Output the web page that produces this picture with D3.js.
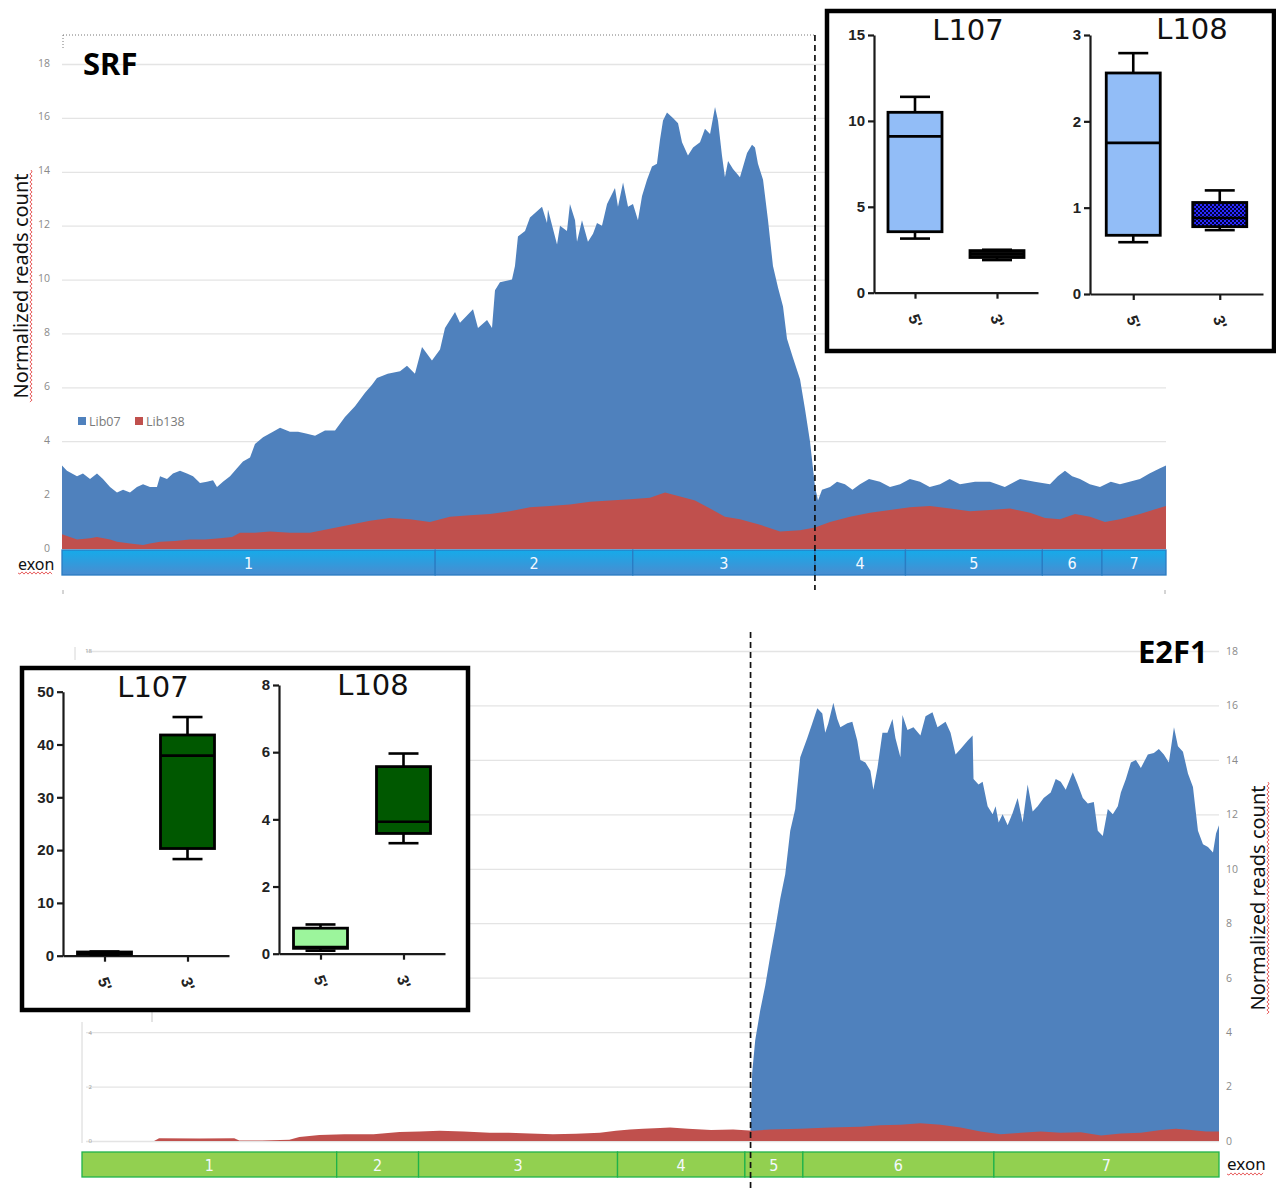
<!DOCTYPE html>
<html>
<head>
<meta charset="utf-8">
<script src="https://cdn.jsdelivr.net/npm/d3@7"></script>
<style>
body { margin: 0; background: #fff; }
svg { display: block; }
</style>
</head>
<body>
<svg width="1276" height="1188"></svg>
<script>
// positions are % along the transcript, values are normalized read counts
const readTicks = [0, 2, 4, 6, 8, 10, 12, 14, 16, 18];
const exonLabels = ["1", "2", "3", "4", "5", "6", "7"];
const srfExonStarts = [0, 33.8, 51.7, 68.2, 76.4, 88.8, 94.2];
const e2f1ExonStarts = [0, 22.4, 29.6, 47.1, 58.3, 63.4, 80.2];
const srfBreakPos = 68.2;
const e2f1BreakPos = 58.8;

const srfLib07 = [[0,3.1],[0.45,2.9],[1.36,2.7],[1.9,2.8],[2.54,2.6],[3.17,2.8],[3.71,2.6],[4.35,2.3],[4.98,2.1],[5.53,2.2],[6.16,2.1],[6.79,2.3],[7.34,2.4],[7.97,2.3],[8.6,2.3],[8.88,2.7],[9.51,2.6],[10.05,2.8],[10.69,2.9],[11.32,2.8],[11.87,2.7],[12.5,2.45],[13.13,2.5],[13.68,2.55],[14.04,2.3],[14.58,2.5],[15.22,2.7],[15.85,3.0],[16.39,3.25],[17.03,3.4],[17.48,3.9],[18.21,4.15],[19.11,4.35],[19.75,4.5],[20.65,4.35],[21.38,4.35],[22.01,4.3],[22.92,4.2],[23.82,4.4],[24.73,4.4],[25.63,4.9],[26.54,5.3],[27.45,5.8],[28.08,6.1],[28.53,6.35],[29.5,6.5],[30.62,6.6],[31.25,6.8],[31.97,6.5],[32.61,7.5],[33.51,7.0],[34.24,7.4],[34.69,8.2],[35.6,8.8],[36.05,8.4],[37.23,8.9],[37.68,8.2],[38.5,8.5],[38.95,8.2],[39.22,9.6],[39.67,9.9],[40.76,10.0],[41.03,10.5],[41.3,11.6],[41.94,11.8],[42.39,12.3],[43.48,12.7],[43.93,12.1],[44.02,12.6],[44.84,11.3],[45.11,12.0],[45.74,11.8],[46.01,12.8],[46.47,12.2],[46.65,11.4],[47.1,12.2],[47.64,11.4],[48.1,11.7],[48.46,12.1],[48.91,12.0],[49.37,12.8],[50.09,13.4],[50.36,12.7],[50.82,13.6],[51.27,12.7],[51.72,12.8],[52.17,12.2],[52.54,13.1],[52.99,13.7],[53.44,14.2],[53.89,14.3],[54.17,15.2],[54.44,15.9],[54.8,16.2],[55.34,16.0],[55.8,15.8],[56.16,15.1],[56.7,14.6],[57.16,14.9],[57.79,15.1],[58.24,15.6],[58.7,15.4],[59.15,16.4],[59.42,15.9],[59.78,14.6],[60.05,13.8],[60.33,14.4],[60.78,14.1],[61.41,13.8],[62.05,14.7],[62.5,15.0],[62.77,14.9],[63.04,14.3],[63.5,13.7],[63.95,12.2],[64.4,10.5],[64.86,9.7],[65.31,9.0],[65.67,7.8],[66.21,7.1],[66.85,6.3],[67.3,5.2],[67.75,4.0],[68.21,2.3],[68.48,1.8],[68.84,2.2],[69.57,2.3],[70.2,2.5],[70.92,2.4],[71.6,2.2],[72.28,2.4],[73.1,2.6],[74.09,2.5],[75.0,2.3],[75.91,2.4],[76.8,2.6],[77.72,2.5],[78.6,2.3],[79.53,2.4],[80.4,2.6],[81.34,2.4],[82.7,2.5],[84.06,2.5],[85.4,2.3],[86.78,2.6],[88.1,2.5],[89.49,2.4],[90.2,2.7],[90.85,2.9],[91.5,2.7],[92.21,2.6],[93.1,2.4],[94.02,2.3],[95.0,2.5],[95.83,2.4],[96.7,2.5],[97.64,2.6],[98.5,2.8],[99.46,3.0],[100,3.1]];

const srfLib138 = [[0,0.55],[0.72,0.45],[1.36,0.35],[2.54,0.4],[3.17,0.45],[4.35,0.35],[4.98,0.27],[6.16,0.2],[7.34,0.15],[7.97,0.2],[8.88,0.27],[10.24,0.3],[11.59,0.35],[12.95,0.35],[14.31,0.4],[15.4,0.45],[16.12,0.6],[17.48,0.6],[18.84,0.65],[20.65,0.6],[22.46,0.6],[24.28,0.75],[26.09,0.9],[27.9,1.05],[29.71,1.15],[31.52,1.1],[33.33,1.0],[35.14,1.2],[36.96,1.25],[38.77,1.3],[40.58,1.4],[42.39,1.55],[44.2,1.6],[46.01,1.65],[47.83,1.75],[49.64,1.8],[51.45,1.85],[53.26,1.9],[54.62,2.1],[55.98,1.95],[57.34,1.8],[58.7,1.5],[60.05,1.2],[61.41,1.1],[63.22,0.9],[65.04,0.65],[66.85,0.7],[68.21,0.8],[69.57,1.0],[71.38,1.2],[73.19,1.35],[75.0,1.45],[76.81,1.55],[78.62,1.6],[80.43,1.5],[82.25,1.4],[84.06,1.45],[85.87,1.5],[87.68,1.35],[89.04,1.15],[90.4,1.1],[91.76,1.3],[93.12,1.2],[94.47,1.0],[95.83,1.1],[97.64,1.3],[100,1.6]];

const e2f1Lib07 = [[58.77,0],[58.94,2.5],[59.21,3.7],[59.65,4.8],[60.09,5.7],[60.53,6.8],[60.97,7.8],[61.41,8.9],[61.85,9.8],[62.29,11.4],[62.73,12.2],[63.17,14.1],[63.79,14.8],[64.23,15.35],[64.67,15.9],[65.11,15.7],[65.37,15.0],[65.64,15.35],[66.08,16.1],[66.43,15.5],[66.7,15.2],[67.31,15.35],[67.75,15.4],[68.19,14.7],[68.46,14.0],[68.9,13.9],[69.34,13.6],[69.6,12.9],[69.96,13.7],[70.4,15.0],[70.84,15.0],[71.28,15.5],[71.54,14.8],[71.98,14.1],[72.16,15.65],[72.6,15.1],[73.13,15.2],[73.74,14.9],[74.19,15.6],[74.8,15.75],[75.24,15.2],[75.95,15.4],[76.39,15.0],[76.83,14.2],[77.27,14.4],[77.89,14.7],[78.33,14.9],[78.41,13.3],[78.85,13.1],[79.21,13.2],[79.65,12.3],[80.09,12.0],[80.35,12.3],[80.62,11.7],[80.97,12.0],[81.41,11.6],[81.85,12.05],[82.29,12.6],[82.73,11.7],[83.17,13.1],[83.61,12.1],[84.05,12.3],[84.58,12.6],[85.2,12.8],[85.64,13.3],[86.08,13.2],[86.52,12.9],[87.14,13.55],[87.58,13.1],[88.02,12.6],[88.46,12.4],[88.99,12.45],[89.34,11.4],[89.78,11.2],[90.22,12.2],[90.66,12.0],[91.1,12.3],[91.37,12.8],[91.81,13.3],[92.25,13.9],[92.69,14.0],[93.13,13.7],[93.74,14.2],[94.27,14.25],[94.71,14.4],[95.15,14.2],[95.59,13.9],[96.04,15.2],[96.39,14.5],[96.83,14.3],[97.27,13.5],[97.71,13.0],[98.15,11.4],[98.59,10.9],[99.03,10.8],[99.47,10.6],[99.74,11.3],[100,11.6]];

const e2f1Lib138 = [[0,0],[6.34,0],[6.78,0.1],[10.31,0.09],[13.39,0.1],[13.83,0.02],[15.86,0.02],[18.24,0.05],[19.12,0.15],[20.88,0.22],[23.08,0.25],[25.64,0.25],[27.93,0.33],[29.69,0.35],[31.45,0.38],[33.57,0.35],[35.86,0.3],[37.53,0.3],[39.38,0.28],[41.41,0.25],[43.44,0.27],[45.55,0.3],[46.96,0.38],[48.19,0.42],[49.34,0.45],[50.84,0.48],[51.72,0.5],[53.3,0.45],[55.33,0.4],[57.27,0.42],[59.03,0.38],[60.53,0.42],[63.17,0.45],[65.81,0.5],[68.46,0.52],[70.22,0.58],[71.98,0.6],[73.74,0.65],[75.51,0.6],[77.27,0.5],[79.03,0.35],[80.79,0.25],[82.56,0.3],[84.32,0.35],[86.08,0.3],[87.84,0.32],[89.63,0.2],[91.37,0.28],[93.13,0.3],[94.89,0.4],[96.21,0.45],[97.53,0.4],[98.85,0.35],[100,0.35]];

// box plots: [min, q1, median, q3, max] for 5' and 3'
const boxGroups = ["5'", "3'"];
const srfL107Stats = [[3.15, 3.55, 9.1, 10.5, 11.4], [1.9, 2.05, 2.25, 2.45, 2.5]];
const srfL108Stats = [[0.6, 0.68, 1.75, 2.56, 2.79], [0.74, 0.78, 0.88, 1.06, 1.2]];
const e2f1L107Stats = [[0.2, 0.3, 0.5, 0.7, 0.8], [18.3, 20.3, 37.9, 41.8, 45.2]];
const e2f1L108Stats = [[0.09, 0.16, 0.2, 0.76, 0.87], [3.29, 3.58, 3.93, 5.57, 5.96]];
const srfL107Ticks = [0, 5, 10, 15];
const srfL108Ticks = [0, 1, 2, 3];
const e2f1L107Ticks = [0, 10, 20, 30, 40, 50];
const e2f1L108Ticks = [0, 2, 4, 6, 8];

const svg = d3.select("svg");
const defs = svg.append("defs");

const grad = defs.append("linearGradient").attr("id", "srfExon")
  .attr("x1", 0).attr("y1", 0).attr("x2", 0).attr("y2", 1);
grad.append("stop").attr("offset", "0%").attr("stop-color", "#15abea");
grad.append("stop").attr("offset", "100%").attr("stop-color", "#4a8cd0");

const pat = defs.append("pattern").attr("id", "checker")
  .attr("width", 4).attr("height", 4).attr("patternUnits", "userSpaceOnUse");
pat.append("rect").attr("width", 4).attr("height", 4).attr("fill", "#00003a");
pat.append("rect").attr("width", 2).attr("height", 2).attr("fill", "#2a2aff");
pat.append("rect").attr("x", 2).attr("y", 2).attr("width", 2).attr("height", 2).attr("fill", "#2a2aff");

function squiggle(x0, y0, len, vertical) { // red spell-check underline
  let d = "M" + x0 + "," + y0;
  for (let i = 2; i <= len; i += 2) {
    const off = (i / 2) % 2 ? 1.1 : -1.1;
    d += vertical ? " L" + (x0 + off) + "," + (y0 + i) : " L" + (x0 + i) + "," + (y0 + off);
  }
  svg.append("path").attr("d", d).attr("fill", "none").attr("stroke", "#e23a3a").attr("stroke-width", 0.8);
}

function drawCoverage(c) {
  const g = svg.append("g");
  const x = d3.scaleLinear().domain([0, 100]).range([c.x0, c.x1]);
  const y = d3.scaleLinear().domain([0, 18]).range([c.yBase, c.yTop]);

  const axis = (c.axisRight ? d3.axisRight(y) : d3.axisLeft(y))
    .tickValues(readTicks).tickSize(-(c.x1 - c.gridStart)).tickPadding(c.pad);
  const ag = g.append("g").attr("transform", "translate(" + (c.axisRight ? c.x1 : c.gridStart) + ",0)").call(axis);
  ag.select(".domain").remove();
  ag.selectAll("line").attr("stroke", "#e4e4e4").attr("stroke-width", 1.3);
  ag.selectAll("text").attr("fill", "#8a8a8a").style("font", "10.5px 'Open Sans', sans-serif");
  if (!c.axisRight) ag.selectAll("text").attr("dy", "0.2em");

  const area = d3.area().x(d => x(d[0])).y0(y(0)).y1(d => y(d[1]));
  g.append("path").datum(c.blue).attr("d", area).attr("fill", "#4f81bd");
  g.append("path").datum(c.red).attr("d", area).attr("fill", "#c0504d");

  const ends = c.exons.slice(1).concat([100]);
  g.selectAll(".exon").data(c.exons).enter().append("rect")
    .attr("x", d => x(d)).attr("y", c.barY)
    .attr("width", (d, i) => x(ends[i]) - x(d)).attr("height", 25)
    .attr("fill", c.barFill).attr("stroke", c.barStroke).attr("stroke-width", 1.3);
  g.selectAll(".exonLabel").data(c.exons).enter().append("text")
    .attr("x", (d, i) => (x(d) + x(ends[i])) / 2).attr("y", c.barY + 18.5)
    .attr("text-anchor", "middle").attr("fill", "#f4f9ff")
    .style("font", "16px 'Liberation Sans Narrow', 'DejaVu Sans Condensed', sans-serif")
    .text((d, i) => exonLabels[i]);

  g.append("line").attr("x1", x(c.breakPos)).attr("x2", x(c.breakPos))
    .attr("y1", c.dashY0).attr("y2", c.dashY1)
    .attr("stroke", "#111").attr("stroke-width", 1.7).attr("stroke-dasharray", "6,4");
  return { g: g, x: x, y: y };
}

function drawInset(b) {
  const g = svg.append("g");
  g.append("rect").attr("x", b.x).attr("y", b.y).attr("width", b.w).attr("height", b.h)
    .attr("fill", "#fff").attr("stroke", "#000").attr("stroke-width", 4.5);
  b.panels.forEach(p => {
    const yS = d3.scaleLinear().domain([0, p.max]).range([p.bottom, p.top]);
    const xS = d3.scalePoint().domain(boxGroups).range([p.left, p.right]).padding(0.5);
    const ya = g.append("g").attr("transform", "translate(" + p.left + ",0)")
      .call(d3.axisLeft(yS).tickValues(p.ticks).tickFormat(d3.format("d"))
        .tickSize(6).tickSizeOuter(0).tickPadding(3));
    const xa = g.append("g").attr("transform", "translate(0," + p.bottom + ")")
      .call(d3.axisBottom(xS).tickSize(6).tickSizeOuter(0));
    [ya, xa].forEach(a => a.selectAll("path,line").attr("stroke", "#1a1a1a").attr("stroke-width", 2.2));
    ya.selectAll("text").attr("fill", "#222").style("font", "bold 15px Arial, 'Liberation Sans', sans-serif");
    xa.selectAll("text").attr("fill", "#222").style("font", "bold 16px Arial, 'Liberation Sans', sans-serif")
      .attr("y", 0).attr("dy", "0.35em").attr("text-anchor", "middle")
      .attr("transform", "translate(0,28) rotate(70)");

    p.stats.forEach((s, i) => {
      const cx = xS(boxGroups[i]);
      const bw = 54, cw = 30;
      g.append("line").attr("x1", cx).attr("x2", cx).attr("y1", yS(s[0])).attr("y2", yS(s[4]))
        .attr("stroke", "#000").attr("stroke-width", 2.6);
      [s[0], s[4]].forEach(v => g.append("line").attr("x1", cx - cw / 2).attr("x2", cx + cw / 2)
        .attr("y1", yS(v)).attr("y2", yS(v)).attr("stroke", "#000").attr("stroke-width", 2.6));
      g.append("rect").attr("x", cx - bw / 2).attr("width", bw)
        .attr("y", yS(s[3])).attr("height", yS(s[1]) - yS(s[3]))
        .attr("fill", p.fills[i]).attr("stroke", "#000").attr("stroke-width", 2.8);
      g.append("line").attr("x1", cx - bw / 2).attr("x2", cx + bw / 2)
        .attr("y1", yS(s[2])).attr("y2", yS(s[2])).attr("stroke", "#000").attr("stroke-width", 2.6);
    });

    g.append("text").attr("x", p.titleX).attr("y", p.titleY).attr("text-anchor", "middle")
      .attr("fill", "#111").style("font", "29px 'DejaVu Sans', sans-serif").text(p.title);
  });
}

// ---------- SRF (top) ----------
svg.append("line").attr("x1", 63).attr("x2", 815).attr("y1", 35).attr("y2", 35)
  .attr("stroke", "#777").attr("stroke-width", 1).attr("stroke-dasharray", "1,2");
svg.append("line").attr("x1", 63).attr("x2", 63).attr("y1", 35).attr("y2", 50)
  .attr("stroke", "#777").attr("stroke-width", 1).attr("stroke-dasharray", "1,2");

drawCoverage({
  x0: 62, x1: 1166, gridStart: 62, yBase: 549, yTop: 64, pad: 12, axisRight: false,
  blue: srfLib07, red: srfLib138, exons: srfExonStarts, barY: 550,
  barFill: "url(#srfExon)", barStroke: "#2a7cc2",
  breakPos: srfBreakPos, dashY0: 35, dashY1: 590
});

[63, 1165].forEach(xx => svg.append("line").attr("x1", xx).attr("x2", xx).attr("y1", 590).attr("y2", 594)
  .attr("stroke", "#aaa").attr("stroke-width", 1));

svg.append("text").attr("x", 83).attr("y", 75).attr("fill", "#000")
  .style("font", "bold 31px 'Noto Sans', sans-serif").text("SRF");

svg.append("text").attr("transform", "translate(28,286) rotate(-90)").attr("text-anchor", "middle")
  .attr("fill", "#111").style("font", "20px 'Noto Sans', sans-serif").text("Normalized reads count");
squiggle(31, 170, 232, true);

svg.append("text").attr("x", 18).attr("y", 570).attr("fill", "#111")
  .style("font", "16px 'Noto Sans', sans-serif").text("exon");
squiggle(18, 573, 35, false);

const legendItems = [["Lib07", "#4f81bd"], ["Lib138", "#c0504d"]];
const lg = svg.append("g").attr("transform", "translate(78,417)");
legendItems.forEach((d, i) => {
  const gx = i * 57;
  lg.append("rect").attr("x", gx).attr("y", 0).attr("width", 8).attr("height", 8).attr("fill", d[1]);
  lg.append("text").attr("x", gx + 11).attr("y", 8.5).attr("fill", "#7a7a7a")
    .style("font", "12.5px 'Open Sans', sans-serif").text(d[0]);
});

drawInset({
  x: 827, y: 11, w: 447, h: 340,
  panels: [
    { left: 874, right: 1038, top: 35, bottom: 292.7, max: 15, ticks: srfL107Ticks, stats: srfL107Stats,
      fills: ["#92bdf7", "#111"], title: "L107", titleX: 968, titleY: 40 },
    { left: 1090, right: 1263, top: 35, bottom: 294, max: 3, ticks: srfL108Ticks, stats: srfL108Stats,
      fills: ["#92bdf7", "url(#checker)"], title: "L108", titleX: 1192, titleY: 39 }
  ]
});

// ---------- E2F1 (bottom) ----------
const bottom = drawCoverage({
  x0: 82, x1: 1219, gridStart: 86, yBase: 1141, yTop: 651, pad: 7, axisRight: true,
  blue: e2f1Lib07, red: e2f1Lib138, exons: e2f1ExonStarts, barY: 1152,
  barFill: "#92d050", barStroke: "#1fb24a",
  breakPos: e2f1BreakPos, dashY0: 632, dashY1: 1188
});

const tiny = svg.append("g").attr("transform", "translate(96,0)")
  .call(d3.axisLeft(bottom.y).tickValues([0, 2, 4, 18]).tickSize(0).tickPadding(4));
tiny.select(".domain").remove();
tiny.selectAll("text").attr("fill", "#999").style("font", "6px 'Open Sans', sans-serif");

svg.append("line").attr("x1", 82).attr("x2", 82).attr("y1", 1022).attr("y2", 1143).attr("stroke", "#d6d6d6");
svg.append("line").attr("x1", 152).attr("x2", 152).attr("y1", 1012).attr("y2", 1022).attr("stroke", "#c8c8c8");
svg.append("line").attr("x1", 75).attr("x2", 75).attr("y1", 647).attr("y2", 660).attr("stroke", "#d6d6d6");

svg.append("text").attr("x", 1138).attr("y", 663).attr("fill", "#000")
  .style("font", "bold 31px 'Noto Sans', sans-serif").text("E2F1");

svg.append("text").attr("transform", "translate(1265,898) rotate(-90)").attr("text-anchor", "middle")
  .attr("fill", "#111").style("font", "20px 'Noto Sans', sans-serif").text("Normalized reads count");
squiggle(1268, 782, 232, true);

svg.append("text").attr("x", 1227).attr("y", 1170).attr("fill", "#111")
  .style("font", "17px 'Noto Sans', sans-serif").text("exon");
squiggle(1227, 1174, 36, false);

drawInset({
  x: 22, y: 668, w: 446, h: 342,
  panels: [
    { left: 63, right: 229, top: 691.7, bottom: 955.7, max: 50, ticks: e2f1L107Ticks, stats: e2f1L107Stats,
      fills: ["#005800", "#005800"], title: "L107", titleX: 153, titleY: 697 },
    { left: 279, right: 445, top: 685, bottom: 953.7, max: 8, ticks: e2f1L108Ticks, stats: e2f1L108Stats,
      fills: ["#9cf59c", "#005800"], title: "L108", titleX: 373, titleY: 695 }
  ]
});
</script>
</body>
</html>
